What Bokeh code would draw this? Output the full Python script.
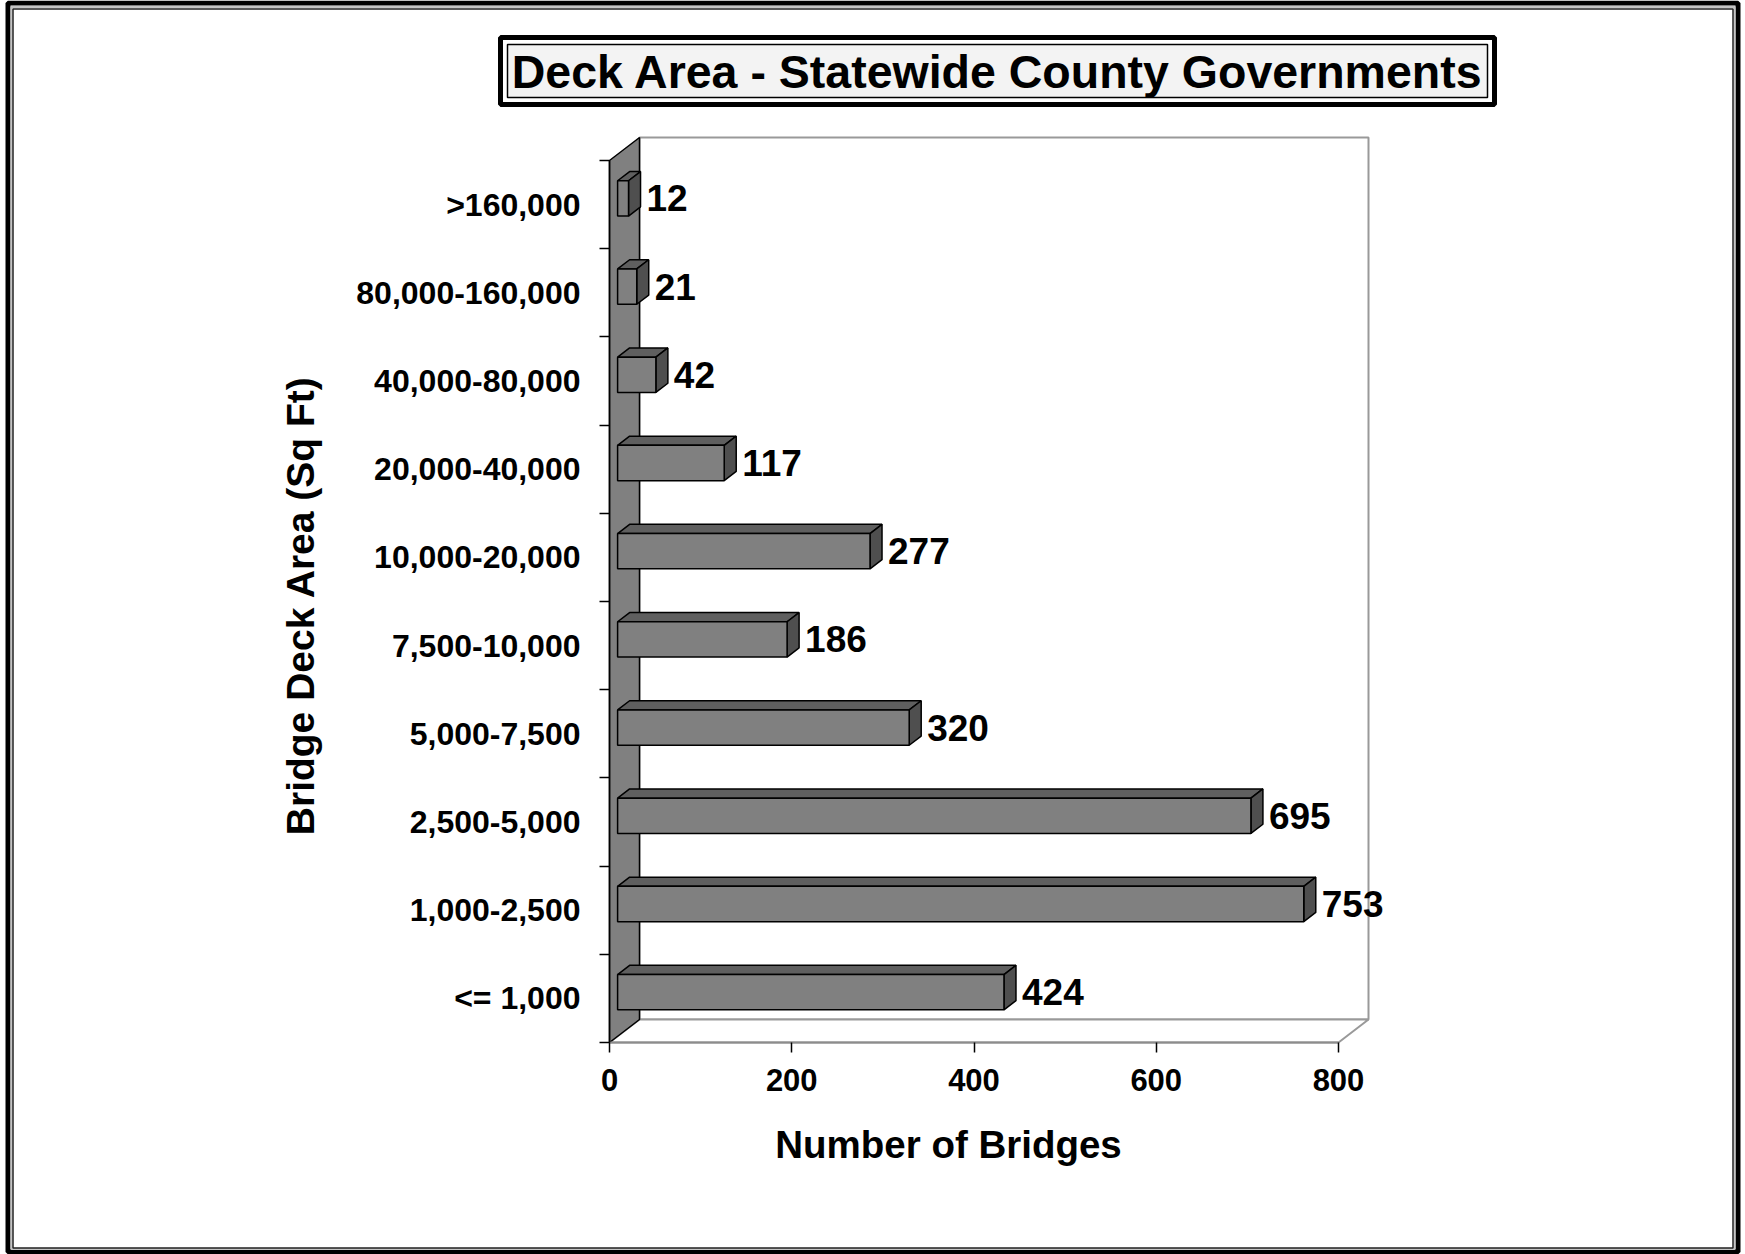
from math import pi
from bokeh.plotting import figure
from bokeh.models import Range1d, FixedTicker, LinearAxis
from bokeh.core.properties import value
from bokeh.embed import file_html
from bokeh.resources import INLINE

# ---------------- data ----------------
categories = ["<= 1,000", "1,000-2,500", "2,500-5,000", "5,000-7,500", "7,500-10,000",
              "10,000-20,000", "20,000-40,000", "40,000-80,000", "80,000-160,000", ">160,000"]
counts = [424, 753, 695, 320, 186, 277, 117, 42, 21, 12]
x_ticks = [0, 200, 400, 600, 800]
title_text = "Deck Area - Statewide County Governments"
x_title = "Number of Bridges"
y_title = "Bridge Deck Area (Sq Ft)"

# ---------------- layout (canvas pixels) ----------------
W, H = 1745, 1254
OX, OY = 609, 1042            # canvas position of the data origin (front-left corner)
XMAX = x_ticks[-1]
NCAT = len(categories)
PX_X = 729 / XMAX             # px per x unit
PX_Y = 88.2                   # px per category

DX = 30 / PX_X                # 3D depth offset in data units
DY = 23 / PX_Y
F0 = 0.27                     # bar front position along depth
G = 0.40                      # bar depth fraction
HALF = 0.2                    # half bar height (category units)

FONT = "Liberation Sans"


def xd(px):
    return (px - OX) / PX_X


def yd(py):
    return (OY - py) / PX_Y


p = figure(width=W, height=H, output_backend="svg", toolbar_location=None,
           x_range=Range1d(xd(0), xd(W)), y_range=Range1d(yd(H), yd(0)),
           x_axis_location=None, y_axis_location=None,
           min_border=0, min_border_left=0, min_border_right=0,
           min_border_top=0, min_border_bottom=0)
p.outline_line_color = None
p.background_fill_color = "white"
p.border_fill_color = "white"
p.grid.visible = False
p.xgrid.visible = False
p.ygrid.visible = False

# ---------------- outer page frame ----------------
p.quad(left=[xd(7.5)], right=[xd(1737.5)], top=[yd(2.5)], bottom=[yd(1251.5)],
       fill_color=None, line_color="black", line_width=5)
p.quad(left=[xd(11)], right=[xd(1734)], top=[yd(6.5)], bottom=[yd(1248.5)],
       fill_color=None, line_color="#c4c4c4", line_width=2)
p.quad(left=[xd(12.5)], right=[xd(1732.5)], top=[yd(8.5)], bottom=[yd(1247.5)],
       fill_color=None, line_color="#222222", line_width=1.5)

# ---------------- title box ----------------
p.quad(left=[xd(500)], right=[xd(1494)], top=[yd(37)], bottom=[yd(104)],
       fill_color="white", line_color="black", line_width=5)
p.quad(left=[xd(507)], right=[xd(1487)], top=[yd(44)], bottom=[yd(97)],
       fill_color="#f3f3f3", line_color="black", line_width=1.5)
p.text(x=[xd(997)], y=[yd(71)], text=[title_text], text_align="center",
       text_baseline="middle", text_font=value(FONT), text_font_style="bold",
       text_font_size="46.5px", text_color="black")

# ---------------- 3D walls ----------------
p.quad(left=[DX], right=[XMAX + DX], bottom=[DY], top=[NCAT + DY],
       fill_color="white", line_color="#999999", line_width=2)
p.patch([0, XMAX, XMAX + DX, DX], [0, 0, DY, DY],
        fill_color="white", line_color="#999999", line_width=2)
p.patch([0, DX, DX, 0], [0, DY, NCAT + DY, NCAT],
        fill_color="#808080", line_color="black", line_width=1.5)

# ---------------- bars ----------------
fl, fr, fb, ft = [], [], [], []
top_xs, top_ys, side_xs, side_ys = [], [], [], []
lab_x, lab_y, lab_t = [], [], []
for i, v in enumerate(counts):
    c = i + 0.5
    x0 = F0 * DX
    x1 = v + F0 * DX
    y0 = c - HALF + F0 * DY
    y1 = c + HALF + F0 * DY
    fl.append(x0); fr.append(x1); fb.append(y0); ft.append(y1)
    top_xs.append([x0, x0 + G * DX, x1 + G * DX, x1])
    top_ys.append([y1, y1 + G * DY, y1 + G * DY, y1])
    side_xs.append([x1, x1 + G * DX, x1 + G * DX, x1])
    side_ys.append([y0, y0 + G * DY, y1 + G * DY, y1])
    lab_x.append(x1 + G * DX)
    lab_y.append(c + F0 * DY)
    lab_t.append(str(v))

p.patches(top_xs, top_ys, fill_color="#5f5f5f", line_color="black", line_width=1.5)
p.patches(side_xs, side_ys, fill_color="#4f4f4f", line_color="black", line_width=1.5)
p.quad(left=fl, right=fr, bottom=fb, top=ft, fill_color="#808080",
       line_color="black", line_width=1.5)

p.text(x=lab_x, y=lab_y, text=lab_t, x_offset=6, text_align="left",
       text_baseline="middle", text_font=value(FONT), text_font_style="bold",
       text_font_size="37px", text_color="black")

# ---------------- axis titles ----------------
p.text(x=[xd(948)], y=[yd(1144)], text=[x_title], text_align="center",
       text_baseline="middle", text_font=value(FONT), text_font_style="bold",
       text_font_size="38.5px", text_color="black")
p.text(x=[xd(300)], y=[yd(605)], text=[y_title], angle=pi / 2, text_align="center",
       text_baseline="middle", text_font=value(FONT), text_font_style="bold",
       text_font_size="39px", text_color="black")

# ---------------- axes (drawn at the data origin) ----------------
xa = LinearAxis(fixed_location=0)
xa.ticker = FixedTicker(ticks=x_ticks)
xa.bounds = (0, XMAX)
xa.axis_line_color = "#8c8c8c"
xa.axis_line_width = 2
xa.major_tick_out = 10
xa.major_tick_in = 0
xa.major_tick_line_color = "black"
xa.major_tick_line_width = 1.5
xa.minor_tick_out = 0
xa.major_label_standoff = 16
xa.major_label_text_font = FONT
xa.major_label_text_font_style = "bold"
xa.major_label_text_font_size = "31px"
xa.major_label_text_color = "black"
p.add_layout(xa, "below")

ya = LinearAxis(fixed_location=0)
ya.ticker = FixedTicker(ticks=[i + 0.5 for i in range(NCAT)], minor_ticks=list(range(NCAT + 1)))
ya.major_label_overrides = {i + 0.5: c for i, c in enumerate(categories)}
ya.bounds = (0, NCAT)
ya.axis_line_color = "black"
ya.axis_line_width = 1.5
ya.major_tick_out = 0
ya.major_tick_in = 0
ya.minor_tick_out = 10
ya.minor_tick_in = 0
ya.minor_tick_line_color = "black"
ya.minor_tick_line_width = 1.5
ya.major_label_standoff = 19
ya.major_label_text_font = FONT
ya.major_label_text_font_style = "bold"
ya.major_label_text_font_size = "32px"
ya.major_label_text_color = "black"
p.add_layout(ya, "left")

open("out.html", "w").write(file_html(p, INLINE))
